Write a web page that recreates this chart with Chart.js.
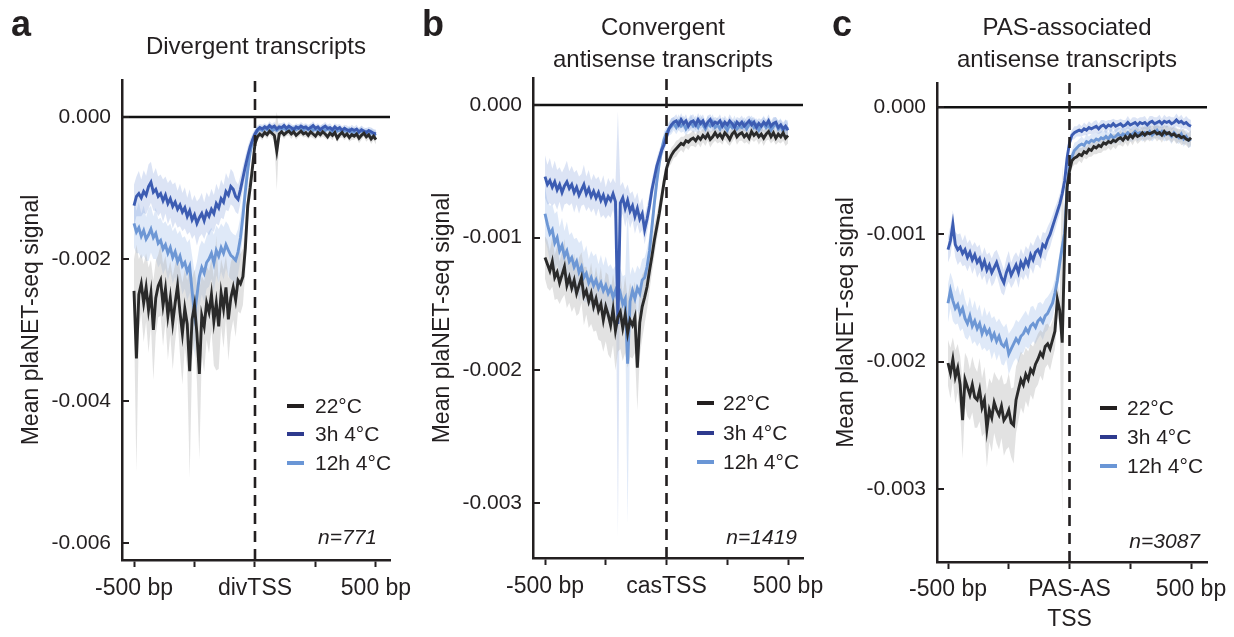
<!DOCTYPE html>
<html><head><meta charset="utf-8">
<script src="https://cdn.jsdelivr.net/npm/chart.js@4.4.1/dist/chart.umd.min.js"></script>
<style>
html,body{margin:0;padding:0;background:#fff;}
body{width:1234px;height:637px;position:relative;overflow:hidden;font-family:"Liberation Sans",Arial,Helvetica,sans-serif;color:#231f20;}
canvas.cv{position:absolute;top:0;}
.t{position:absolute;white-space:nowrap;}
.title{font-size:24px;line-height:32px;text-align:center;width:360px;}
.letter{font-size:36px;font-weight:bold;line-height:36px;}
.leg{font-size:21px;line-height:24px;}
.sw{position:absolute;width:17px;height:4px;}
.n{font-size:21px;font-style:italic;line-height:24px;text-align:right;}
</style></head>
<body>
<canvas id="ca" class="cv" width="450" height="637" style="left:0px"></canvas>
<canvas id="cb" class="cv" width="450" height="637" style="left:410px"></canvas>
<canvas id="cc" class="cv" width="414" height="637" style="left:820px"></canvas>

<div class="t letter" style="left:11px;top:6px">a</div>
<div class="t letter" style="left:422px;top:6px">b</div>
<div class="t letter" style="left:832px;top:6px">c</div>

<div class="t title" style="left:76px;top:30px">Divergent transcripts</div>
<div class="t title" style="left:483px;top:11px">Convergent<br>antisense transcripts</div>
<div class="t title" style="left:887px;top:11px">PAS-associated<br>antisense transcripts</div>

<div class="t n" style="right:857px;top:525px"><span id="na"></span></div>
<div class="t n" style="right:437px;top:525px"><span id="nb"></span></div>
<div class="t n" style="right:34px;top:529px"><span id="nc"></span></div>

<div id="legends"></div>

<script>
// ---------------- DATA (signal values in units of 1e-3) ----------------
const BP = [-500,-490,-480,-470,-460,-450,-440,-430,-420,-410,-400,
-390,-380,-370,-360,-350,-340,-330,-320,-310,-300,
-290,-280,-270,-260,-250,-240,-230,-220,-210,-200,
-190,-180,-170,-160,-150,-140,-130,-120,-110,-100,
-90,-80,-70,-60,-50,-40,-30,-20,-10,0,
10,20,30,40,50,60,70,80,90,100,
110,120,130,140,150,160,170,180,190,200,
210,220,230,240,250,260,270,280,290,300,
310,320,330,340,350,360,370,380,390,400,
410,420,430,440,450,460,470,480,490,500];

const SERIES_LABELS = ['22°C','3h 4°C','12h 4°C'];
const X_TICKS = [-500,-250,0,250,500];
const A_XLABELS = ['-500 bp','','divTSS','','500 bp'];
const B_XLABELS = ['-500 bp','','casTSS','','500 bp'];
const C_XLABELS = ['-500 bp','',['PAS-AS','TSS'],'','500 bp'];
const A_YTICKS = [0,-0.002,-0.004,-0.006];
const B_YTICKS = [0,-0.001,-0.002,-0.003];
const C_YTICKS = [0,-0.001,-0.002,-0.003];
const Y_TITLE = 'Mean plaNET-seq signal';
const N_LABELS = ['n=771','n=1419','n=3087'];

// Panel a
const A_22 = [-2.45,-3.40,-2.50,-2.35,-2.62,-2.40,-2.72,-2.48,-3.00,-2.55,-2.38,
-2.30,-2.65,-2.42,-2.80,-2.55,-2.90,-2.62,-2.38,-2.75,-3.05,
-2.70,-2.92,-3.58,-2.85,-2.65,-3.05,-3.62,-2.80,-2.95,-2.62,
-2.75,-2.50,-2.88,-2.62,-2.95,-2.48,-2.70,-2.40,-2.85,-2.55,
-2.40,-2.58,-2.30,-2.35,-2.25,-1.85,-1.25,-1.00,-0.70,-0.38,
-0.28,-0.24,-0.27,-0.22,-0.25,-0.20,-0.23,-0.26,-0.48,-0.24,
-0.21,-0.25,-0.22,-0.20,-0.24,-0.21,-0.26,-0.23,-0.20,-0.24,
-0.22,-0.26,-0.21,-0.24,-0.27,-0.22,-0.25,-0.21,-0.24,-0.28,
-0.23,-0.26,-0.22,-0.30,-0.25,-0.22,-0.27,-0.24,-0.29,-0.25,
-0.27,-0.24,-0.30,-0.26,-0.23,-0.28,-0.25,-0.31,-0.27,-0.32];
const A_22_SE = [0.45,1.60,0.50,0.42,0.55,0.48,0.60,0.46,0.70,0.52,0.44,
0.50,0.58,0.46,0.62,0.52,0.66,0.55,0.48,0.60,0.72,
0.55,0.62,1.50,0.58,0.50,0.68,1.20,0.56,0.64,0.52,
0.58,0.50,0.62,0.95,0.60,0.48,0.55,0.45,0.58,0.50,
0.46,0.52,0.44,0.42,0.40,0.34,0.26,0.18,0.12,0.08,
0.06,0.05,0.06,0.05,0.06,0.05,0.06,0.07,0.55,0.06,
0.05,0.06,0.05,0.06,0.07,0.05,0.06,0.05,0.06,0.05,
0.06,0.05,0.07,0.06,0.05,0.06,0.05,0.07,0.06,0.05,
0.06,0.07,0.05,0.06,0.05,0.07,0.06,0.05,0.06,0.07,
0.05,0.06,0.07,0.06,0.05,0.07,0.06,0.07,0.06,0.07];
const A_3H = [-1.25,-1.12,-1.08,-1.14,-1.05,-1.10,-0.98,-0.92,-1.06,-1.02,-1.12,
-1.08,-1.18,-1.10,-1.22,-1.15,-1.26,-1.20,-1.30,-1.24,-1.34,
-1.28,-1.40,-1.32,-1.45,-1.38,-1.50,-1.42,-1.36,-1.46,-1.34,
-1.40,-1.30,-1.36,-1.22,-1.28,-1.15,-1.20,-1.05,-1.10,-0.98,
-1.02,-1.12,-1.16,-1.02,-0.86,-0.70,-0.55,-0.42,-0.32,-0.24,
-0.18,-0.15,-0.17,-0.14,-0.16,-0.12,-0.15,-0.13,-0.17,-0.14,
-0.15,-0.12,-0.16,-0.13,-0.15,-0.18,-0.14,-0.16,-0.13,-0.15,
-0.14,-0.17,-0.15,-0.12,-0.16,-0.14,-0.18,-0.15,-0.13,-0.16,
-0.15,-0.18,-0.14,-0.17,-0.15,-0.19,-0.16,-0.18,-0.20,-0.17,
-0.19,-0.17,-0.21,-0.18,-0.20,-0.22,-0.19,-0.21,-0.23,-0.24];
const A_3H_SE = [0.30,0.28,0.32,0.26,0.30,0.27,0.31,0.29,0.26,0.30,0.28,
0.27,0.30,0.26,0.29,0.27,0.31,0.28,0.26,0.30,0.27,
0.29,0.26,0.30,0.27,0.28,0.31,0.27,0.29,0.26,0.28,
0.27,0.29,0.26,0.28,0.25,0.27,0.24,0.26,0.23,0.25,
0.24,0.22,0.21,0.19,0.17,0.15,0.13,0.11,0.09,0.07,
0.06,0.05,0.06,0.05,0.05,0.06,0.05,0.06,0.05,0.05,
0.06,0.05,0.05,0.06,0.05,0.06,0.05,0.05,0.06,0.05,
0.05,0.06,0.05,0.06,0.05,0.05,0.06,0.05,0.06,0.05,
0.06,0.05,0.05,0.06,0.05,0.06,0.05,0.06,0.05,0.06,
0.05,0.06,0.05,0.06,0.05,0.06,0.05,0.06,0.06,0.06];
const A_12H = [-1.50,-1.62,-1.56,-1.68,-1.60,-1.72,-1.66,-1.58,-1.70,-1.64,-1.78,
-1.74,-1.86,-1.80,-1.92,-1.84,-1.98,-1.90,-2.04,-1.96,-2.10,
-2.05,-2.18,-2.10,-2.45,-2.78,-2.52,-2.25,-2.12,-2.20,-2.05,
-2.00,-1.92,-2.06,-1.88,-1.96,-1.84,-1.92,-1.80,-1.88,-1.95,
-1.98,-2.02,-1.90,-1.70,-1.40,-1.05,-0.75,-0.50,-0.34,-0.25,
-0.20,-0.17,-0.19,-0.16,-0.18,-0.15,-0.20,-0.17,-0.19,-0.16,
-0.18,-0.15,-0.19,-0.17,-0.20,-0.16,-0.18,-0.15,-0.17,-0.19,
-0.16,-0.18,-0.15,-0.19,-0.17,-0.20,-0.18,-0.16,-0.19,-0.17,
-0.18,-0.21,-0.17,-0.20,-0.18,-0.22,-0.19,-0.21,-0.18,-0.23,
-0.20,-0.24,-0.21,-0.19,-0.23,-0.21,-0.25,-0.22,-0.24,-0.26];
const A_12H_SE = [0.34,0.30,0.36,0.32,0.35,0.31,0.37,0.33,0.30,0.36,0.34,
0.32,0.36,0.33,0.38,0.34,0.37,0.35,0.39,0.36,0.40,
0.37,0.41,0.38,0.50,0.60,0.48,0.42,0.38,0.41,0.37,
0.39,0.36,0.40,0.35,0.38,0.34,0.37,0.33,0.36,0.34,
0.33,0.35,0.32,0.30,0.26,0.22,0.17,0.13,0.09,0.07,
0.06,0.05,0.06,0.05,0.06,0.05,0.05,0.06,0.05,0.06,
0.05,0.06,0.05,0.05,0.06,0.05,0.06,0.05,0.06,0.05,
0.06,0.05,0.06,0.05,0.05,0.06,0.05,0.06,0.05,0.06,
0.05,0.06,0.05,0.06,0.05,0.06,0.06,0.05,0.06,0.05,
0.06,0.05,0.06,0.06,0.05,0.06,0.05,0.06,0.06,0.06];

// Panel b
const B_22 = [-1.15,-1.20,-1.25,-1.18,-1.30,-1.26,-1.34,-1.28,-1.22,-1.36,-1.30,
-1.38,-1.32,-1.42,-1.36,-1.30,-1.44,-1.40,-1.48,-1.42,-1.52,
-1.46,-1.55,-1.50,-1.62,-1.52,-1.58,-1.66,-1.54,-1.70,-1.60,
-1.56,-1.68,-1.58,-1.72,-1.62,-1.66,-1.60,-1.98,-1.64,-1.52,
-1.45,-1.37,-1.25,-1.14,-1.02,-0.92,-0.82,-0.70,-0.58,-0.48,
-0.42,-0.38,-0.35,-0.33,-0.31,-0.29,-0.30,-0.27,-0.28,-0.26,
-0.25,-0.27,-0.24,-0.26,-0.23,-0.25,-0.22,-0.26,-0.24,-0.21,
-0.24,-0.22,-0.25,-0.21,-0.23,-0.26,-0.22,-0.20,-0.24,-0.22,
-0.21,-0.24,-0.22,-0.25,-0.20,-0.23,-0.21,-0.24,-0.22,-0.25,
-0.22,-0.20,-0.24,-0.21,-0.25,-0.22,-0.24,-0.21,-0.25,-0.23];
const B_22_SE = [0.16,0.18,0.15,0.19,0.17,0.20,0.16,0.18,0.21,0.17,0.19,
0.18,0.20,0.17,0.21,0.19,0.22,0.18,0.20,0.23,0.19,
0.24,0.22,0.28,0.24,0.26,0.30,0.25,0.27,0.30,0.26,
0.28,0.25,0.29,0.26,0.28,0.25,0.27,0.32,0.26,0.24,
0.20,0.17,0.15,0.13,0.12,0.10,0.09,0.08,0.07,0.06,
0.05,0.06,0.05,0.06,0.05,0.05,0.06,0.05,0.06,0.05,
0.06,0.05,0.05,0.06,0.05,0.06,0.05,0.06,0.05,0.06,
0.05,0.06,0.05,0.05,0.06,0.05,0.06,0.05,0.06,0.05,
0.06,0.05,0.06,0.05,0.06,0.05,0.05,0.06,0.05,0.06,
0.05,0.06,0.05,0.06,0.05,0.06,0.05,0.06,0.06,0.06];
const B_3H = [-0.54,-0.60,-0.57,-0.62,-0.58,-0.64,-0.60,-0.66,-0.61,-0.58,-0.63,
-0.60,-0.66,-0.62,-0.68,-0.64,-0.60,-0.67,-0.63,-0.69,-0.65,
-0.70,-0.66,-0.72,-0.68,-0.74,-0.69,-0.72,-0.67,-0.73,-1.65,
-0.74,-0.70,-0.78,-0.72,-0.80,-0.76,-0.84,-0.78,-0.86,-0.82,
-0.94,-0.86,-0.76,-0.64,-0.55,-0.46,-0.40,-0.34,-0.30,-0.24,
-0.18,-0.15,-0.13,-0.12,-0.15,-0.11,-0.14,-0.12,-0.16,-0.13,
-0.12,-0.15,-0.11,-0.14,-0.12,-0.16,-0.13,-0.11,-0.15,-0.13,
-0.14,-0.12,-0.16,-0.13,-0.15,-0.12,-0.14,-0.17,-0.13,-0.15,
-0.13,-0.16,-0.14,-0.12,-0.15,-0.13,-0.17,-0.14,-0.16,-0.13,
-0.15,-0.12,-0.16,-0.14,-0.13,-0.17,-0.15,-0.18,-0.16,-0.19];
const B_3H_SE = [0.16,0.15,0.17,0.14,0.16,0.15,0.13,0.15,0.14,0.16,0.13,
0.14,0.15,0.13,0.14,0.12,0.15,0.13,0.14,0.12,0.13,
0.14,0.12,0.13,0.15,0.12,0.14,0.13,0.12,0.14,1.60,
0.13,0.12,0.14,0.12,0.13,0.11,0.13,0.12,0.11,0.12,
0.11,0.10,0.09,0.08,0.07,0.06,0.06,0.05,0.05,0.05,
0.04,0.05,0.04,0.05,0.04,0.05,0.04,0.05,0.04,0.05,
0.05,0.04,0.05,0.04,0.05,0.04,0.05,0.04,0.05,0.04,
0.04,0.05,0.04,0.05,0.04,0.05,0.04,0.05,0.04,0.05,
0.05,0.04,0.05,0.04,0.05,0.04,0.05,0.04,0.05,0.04,
0.04,0.05,0.04,0.05,0.04,0.05,0.04,0.05,0.05,0.05];
const B_12H = [-0.82,-0.90,-0.97,-0.94,-1.04,-1.00,-1.10,-1.06,-1.14,-1.10,-1.18,
-1.15,-1.22,-1.18,-1.26,-1.22,-1.30,-1.27,-1.34,-1.30,-1.36,
-1.32,-1.38,-1.34,-1.40,-1.36,-1.42,-1.38,-1.45,-1.40,-1.48,
-1.42,-1.50,-1.46,-1.95,-1.48,-1.40,-1.46,-1.38,-1.42,-1.32,
-1.30,-1.22,-1.10,-0.92,-0.74,-0.58,-0.44,-0.34,-0.26,-0.21,
-0.18,-0.16,-0.14,-0.17,-0.13,-0.16,-0.14,-0.18,-0.15,-0.13,
-0.16,-0.14,-0.17,-0.13,-0.15,-0.18,-0.14,-0.16,-0.13,-0.17,
-0.15,-0.18,-0.14,-0.16,-0.19,-0.15,-0.17,-0.14,-0.18,-0.16,
-0.17,-0.14,-0.18,-0.15,-0.13,-0.17,-0.15,-0.19,-0.16,-0.14,
-0.17,-0.15,-0.19,-0.16,-0.14,-0.18,-0.16,-0.20,-0.17,-0.18];
const B_12H_SE = [0.20,0.18,0.21,0.19,0.22,0.20,0.18,0.21,0.19,0.22,0.20,
0.19,0.21,0.18,0.22,0.20,0.19,0.21,0.18,0.20,0.22,
0.20,0.18,0.21,0.19,0.22,0.20,0.18,0.21,0.19,0.20,
0.19,0.21,0.18,1.20,0.20,0.18,0.19,0.17,0.18,0.16,
0.15,0.14,0.12,0.10,0.09,0.08,0.07,0.06,0.06,0.05,
0.05,0.06,0.05,0.05,0.06,0.05,0.06,0.05,0.05,0.06,
0.05,0.06,0.05,0.06,0.05,0.05,0.06,0.05,0.06,0.05,
0.06,0.05,0.05,0.06,0.05,0.06,0.05,0.06,0.05,0.05,
0.06,0.05,0.06,0.05,0.05,0.06,0.05,0.06,0.05,0.06,
0.05,0.06,0.05,0.06,0.05,0.06,0.06,0.05,0.06,0.06];

// Panel c
const C_22 = [-2.01,-2.09,-1.98,-2.12,-2.05,-2.18,-2.46,-2.14,-2.20,-2.26,-2.18,
-2.28,-2.30,-2.22,-2.36,-2.30,-2.53,-2.38,-2.44,-2.32,-2.38,
-2.42,-2.35,-2.46,-2.43,-2.38,-2.48,-2.50,-2.30,-2.22,-2.14,
-2.18,-2.10,-2.14,-2.06,-2.09,-2.02,-1.98,-1.93,-1.96,-1.88,
-1.86,-1.90,-1.83,-1.76,-1.51,-1.60,-1.85,-1.10,-0.63,-0.50,
-0.42,-0.40,-0.39,-0.37,-0.38,-0.35,-0.36,-0.33,-0.34,-0.31,
-0.32,-0.30,-0.31,-0.28,-0.29,-0.27,-0.28,-0.26,-0.27,-0.25,
-0.24,-0.26,-0.23,-0.25,-0.22,-0.24,-0.21,-0.23,-0.22,-0.20,
-0.22,-0.20,-0.21,-0.20,-0.19,-0.21,-0.20,-0.22,-0.19,-0.21,
-0.20,-0.22,-0.21,-0.23,-0.22,-0.24,-0.23,-0.25,-0.26,-0.24];
const C_22_SE = [0.18,0.20,0.17,0.21,0.19,0.22,0.30,0.21,0.23,0.20,0.22,
0.24,0.22,0.25,0.23,0.26,0.30,0.25,0.27,0.24,0.26,
0.27,0.25,0.28,0.26,0.29,0.27,0.30,0.26,0.24,0.22,
0.23,0.21,0.22,0.20,0.21,0.19,0.20,0.18,0.19,0.17,
0.16,0.17,0.15,0.14,0.13,0.12,1.40,0.10,0.08,0.07,
0.06,0.05,0.06,0.05,0.06,0.05,0.05,0.06,0.05,0.06,
0.05,0.06,0.05,0.06,0.05,0.05,0.06,0.05,0.06,0.05,
0.06,0.05,0.05,0.06,0.05,0.06,0.05,0.06,0.05,0.05,
0.06,0.05,0.06,0.05,0.05,0.06,0.05,0.06,0.05,0.06,
0.05,0.06,0.05,0.06,0.05,0.06,0.06,0.05,0.06,0.06];
const C_3H = [-1.12,-1.05,-0.92,-1.08,-1.12,-1.10,-1.15,-1.12,-1.18,-1.14,-1.20,
-1.16,-1.22,-1.19,-1.26,-1.21,-1.28,-1.24,-1.30,-1.26,-1.22,
-1.28,-1.34,-1.38,-1.30,-1.25,-1.32,-1.28,-1.24,-1.30,-1.22,
-1.26,-1.20,-1.24,-1.16,-1.20,-1.14,-1.12,-1.16,-1.08,-1.10,
-1.04,-1.00,-0.94,-0.88,-0.82,-0.76,-0.68,-0.58,-0.40,-0.28,
-0.22,-0.20,-0.19,-0.18,-0.19,-0.17,-0.18,-0.16,-0.17,-0.16,
-0.15,-0.17,-0.15,-0.14,-0.16,-0.14,-0.15,-0.13,-0.15,-0.14,
-0.13,-0.15,-0.14,-0.12,-0.14,-0.13,-0.12,-0.14,-0.12,-0.13,
-0.12,-0.14,-0.12,-0.11,-0.13,-0.12,-0.11,-0.13,-0.11,-0.12,
-0.11,-0.13,-0.12,-0.10,-0.12,-0.11,-0.13,-0.12,-0.14,-0.15];
const C_3H_SE = [0.10,0.12,0.11,0.10,0.12,0.11,0.10,0.12,0.11,0.10,0.11,
0.10,0.12,0.11,0.10,0.11,0.12,0.10,0.11,0.12,0.10,
0.11,0.12,0.10,0.11,0.12,0.10,0.11,0.10,0.12,0.11,
0.10,0.11,0.12,0.10,0.11,0.10,0.12,0.11,0.10,0.11,
0.10,0.10,0.09,0.09,0.08,0.08,0.07,0.07,0.06,0.05,
0.04,0.05,0.04,0.05,0.04,0.05,0.04,0.05,0.04,0.05,
0.05,0.04,0.05,0.04,0.05,0.04,0.05,0.04,0.05,0.04,
0.04,0.05,0.04,0.05,0.04,0.05,0.04,0.05,0.04,0.05,
0.05,0.04,0.05,0.04,0.05,0.04,0.05,0.04,0.05,0.04,
0.04,0.05,0.04,0.05,0.04,0.05,0.04,0.05,0.05,0.05];
const C_12H = [-1.54,-1.44,-1.52,-1.58,-1.55,-1.62,-1.58,-1.66,-1.70,-1.64,-1.72,
-1.68,-1.74,-1.70,-1.78,-1.73,-1.78,-1.75,-1.82,-1.78,-1.84,
-1.80,-1.86,-1.88,-1.84,-1.94,-1.90,-1.86,-1.82,-1.85,-1.80,
-1.78,-1.74,-1.77,-1.72,-1.70,-1.73,-1.68,-1.66,-1.69,-1.64,
-1.62,-1.58,-1.54,-1.46,-1.36,-1.22,-1.10,-0.99,-0.63,-0.45,
-0.39,-0.34,-0.32,-0.30,-0.29,-0.30,-0.27,-0.28,-0.26,-0.27,
-0.25,-0.26,-0.24,-0.25,-0.23,-0.25,-0.22,-0.24,-0.23,-0.21,
-0.23,-0.21,-0.22,-0.20,-0.22,-0.21,-0.19,-0.21,-0.20,-0.22,
-0.20,-0.21,-0.19,-0.22,-0.20,-0.18,-0.21,-0.19,-0.22,-0.20,
-0.21,-0.23,-0.20,-0.22,-0.24,-0.21,-0.25,-0.23,-0.26,-0.25];
const C_12H_SE = [0.15,0.14,0.16,0.13,0.15,0.14,0.16,0.15,0.13,0.15,0.14,
0.16,0.14,0.15,0.13,0.16,0.14,0.15,0.16,0.14,0.15,
0.14,0.16,0.15,0.14,0.16,0.15,0.14,0.15,0.16,0.14,
0.15,0.14,0.13,0.15,0.14,0.13,0.14,0.13,0.14,0.13,
0.13,0.12,0.12,0.11,0.10,0.09,0.08,0.08,0.07,0.06,
0.05,0.06,0.05,0.05,0.06,0.05,0.06,0.05,0.05,0.06,
0.05,0.06,0.05,0.06,0.05,0.05,0.06,0.05,0.06,0.05,
0.06,0.05,0.05,0.06,0.05,0.06,0.05,0.06,0.05,0.05,
0.06,0.05,0.06,0.05,0.05,0.06,0.05,0.06,0.05,0.06,
0.05,0.06,0.05,0.06,0.05,0.06,0.06,0.05,0.06,0.06];

// ---------------- STYLE / LAYOUT ----------------
const UNIT = 1e-3;
const INK = '#231f20';
const LINE_COLORS = ['#2a2a2a','#3c5cb2','#6d97d5'];
const BAND_COLORS = ['rgba(180,180,180,0.38)','rgba(120,150,215,0.26)','rgba(160,190,235,0.34)'];
const SWATCH_COLORS = ['#231f20','#2e3a8e','#6a96d6'];
const XH = 70;

const PANELS = [
  {id:'ca', W:450, L:122, R:390, T:80, B:560, xmin:-549.6, xmax:557.9, ymin:-0.00624, ymax:0.00052,
   yticks:A_YTICKS, xlabels:A_XLABELS, tpad:18, xpad:7, data:[A_22,A_3H,A_12H], se:[A_22_SE,A_3H_SE,A_12H_SE],
   n:'na', nText:N_LABELS[0], leg:{sw:287, tx:315, ys:[406,434,463]}},
  {id:'cb', W:450, L:123, R:393, T:78, B:558, xmin:-549.4, xmax:561.7, ymin:-0.003414, ymax:0.000203,
   yticks:B_YTICKS, xlabels:B_XLABELS, tpad:19, xpad:7, data:[B_22,B_3H,B_12H], se:[B_22_SE,B_3H_SE,B_12H_SE],
   n:'nb', nText:N_LABELS[1], leg:{sw:697, tx:723, ys:[403,433,462]}},
  {id:'cc', W:414, L:117, R:387, T:83, B:562, xmin:-545.3, xmax:565.8, ymin:-0.003574, ymax:0.00019,
   yticks:C_YTICKS, xlabels:C_XLABELS, tpad:13, xpad:6, data:[C_22,C_3H,C_12H], se:[C_22_SE,C_3H_SE,C_12H_SE],
   n:'nc', nText:N_LABELS[2], leg:{sw:1100, tx:1127, ys:[408,437,466]}}
];

Chart.defaults.font.family = '"Liberation Sans", Arial, Helvetica, sans-serif';
Chart.defaults.color = INK;

const yTickMarks = {
  id:'yTickMarks',
  afterDraw(chart){
    const ys = chart.scales.y, a = chart.chartArea, ctx = chart.ctx;
    ctx.save(); ctx.strokeStyle = INK; ctx.lineWidth = 2;
    ys.ticks.forEach(t => {
      const py = Math.round(ys.getPixelForValue(t.value));
      ctx.beginPath(); ctx.moveTo(a.left, py); ctx.lineTo(a.left + 7, py); ctx.stroke();
    });
    ctx.restore();
  }
};

function pts(m){ return BP.map((x,i)=>({x:x, y:m[i]*UNIT})); }
function hi(m,e){ return BP.map((x,i)=>({x:x, y:(m[i]+e[i])*UNIT})); }
function lo(m,e){ return BP.map((x,i)=>({x:x, y:(m[i]-e[i])*UNIT})); }

PANELS.forEach(p => {
  const ds = [];
  ds.push({data:[{x:0,y:p.ymin},{x:0,y:p.ymax}], borderColor:INK, borderWidth:2.6, borderDash:[11,7], pointRadius:0, fill:false});
  ds.push({data:[{x:p.xmin,y:0},{x:p.xmax,y:0}], borderColor:'#111', borderWidth:2.5, pointRadius:0, fill:false});
  for (let k=0;k<3;k++) ds.push({data:pts(p.data[k]), borderColor:LINE_COLORS[k], borderWidth:2.9, pointRadius:0, tension:0, fill:false, borderJoinStyle:'miter'});
  for (let k=0;k<3;k++) {
    ds.push({data:hi(p.data[k],p.se[k]), borderWidth:0, pointRadius:0, tension:0, fill:'+1', backgroundColor:BAND_COLORS[k], borderColor:'rgba(0,0,0,0)'});
    ds.push({data:lo(p.data[k],p.se[k]), borderWidth:0, pointRadius:0, tension:0, fill:false, borderColor:'rgba(0,0,0,0)'});
  }
  new Chart(document.getElementById(p.id), {
    type:'line',
    data:{datasets:ds},
    options:{
      responsive:false, animation:false, events:[],
      layout:{padding:{left:0, top:p.T, right:p.W - p.R, bottom:637 - p.B - XH}},
      plugins:{legend:{display:false}, tooltip:{enabled:false}},
      scales:{
        x:{type:'linear', min:p.xmin, max:p.xmax,
           afterBuildTicks:s=>{ s.ticks = X_TICKS.map(v=>({value:v})); },
           afterFit:s=>{ s.height = XH; },
           ticks:{callback:(v,i)=>p.xlabels[i], autoSkip:false, maxRotation:0, minRotation:0,
                  font:{size:23, lineHeight:1.3}, color:INK, padding:p.xpad},
           grid:{display:true, drawOnChartArea:false, drawTicks:true, tickLength:7, tickWidth:2, tickColor:INK},
           border:{display:true, color:INK, width:2.5}},
        y:{type:'linear', min:p.ymin, max:p.ymax,
           afterBuildTicks:s=>{ s.ticks = p.yticks.map(v=>({value:v})); },
           afterFit:s=>{ s.width = p.L; },
           ticks:{callback:v=>Number(v).toFixed(3), font:{size:21}, color:INK, padding:11},
           grid:{display:false, drawTicks:false},
           border:{display:true, color:INK, width:2.5},
           title:{display:true, text:Y_TITLE, font:{size:23}, color:INK, padding:{top:p.tpad, bottom:0}}}
      }
    },
    plugins:[yTickMarks]
  });
  document.getElementById(p.n).textContent = p.nText;
  const legRoot = document.getElementById('legends');
  SERIES_LABELS.forEach((lab,k) => {
    const sw = document.createElement('div');
    sw.className = 'sw';
    sw.style.left = p.leg.sw + 'px'; sw.style.top = (p.leg.ys[k]-2) + 'px';
    sw.style.background = SWATCH_COLORS[k];
    legRoot.appendChild(sw);
    const tx = document.createElement('div');
    tx.className = 't leg';
    tx.style.left = p.leg.tx + 'px'; tx.style.top = (p.leg.ys[k]-12) + 'px';
    tx.textContent = lab;
    legRoot.appendChild(tx);
  });
});
</script>
</body></html>
